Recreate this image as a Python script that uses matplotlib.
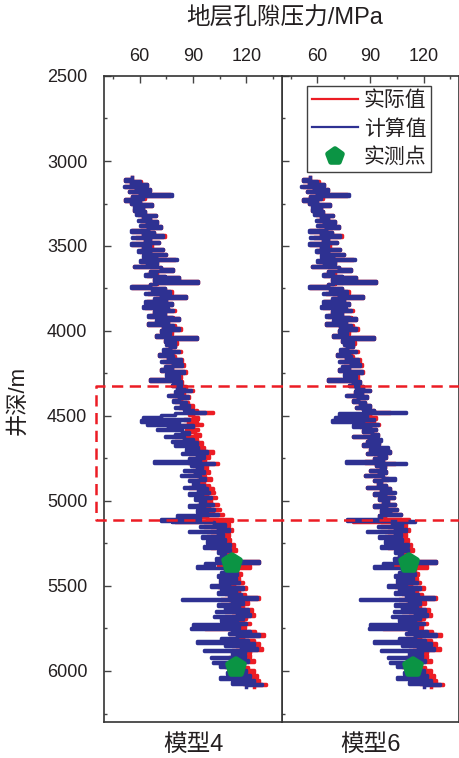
import numpy as np
import matplotlib
matplotlib.use('Agg')
import matplotlib.pyplot as plt
from matplotlib.ticker import MultipleLocator
from matplotlib import transforms
from matplotlib.lines import Line2D
from matplotlib.markers import MarkerStyle

plt.rcParams['font.family'] = ['Liberation Sans', 'Noto Sans CJK SC']

# well depth samples, m
depth = np.arange(3100, 6100, 10)

# measured formation pore pressure, MPa
actual = [
    56, 52, 61, 55, 64, 52, 58, 66, 54, 60, 77, 56, 63, 52, 60, 55, 67, 58, 62, 57,
    63, 59, 69, 62, 66, 60, 70, 64, 61, 72, 65, 56, 68, 62, 74, 58, 66, 63, 71, 56,
    67, 62, 73, 60, 66, 75, 63, 69, 80, 61, 70, 65, 57, 72, 79, 66, 70, 64, 74, 82,
    68, 93, 70, 66, 56, 74, 68, 78, 65, 72, 86, 69, 75, 64, 78, 70, 63, 76, 80, 68,
    74, 66, 79, 82, 70, 76, 65, 80, 73, 83, 72, 78, 75, 69, 92, 77, 74, 81, 76, 80,
    77, 74, 83, 79, 71, 80, 76, 84, 73, 79, 85, 75, 78, 72, 86, 80, 76, 83, 79, 66,
    84, 80, 78, 86, 82, 90, 81, 85, 77, 88, 83, 80, 87, 84, 90, 82, 86, 92, 101, 88,
    90, 93, 85, 92, 87, 95, 84, 90, 93, 86, 91, 94, 80, 89, 92, 88, 95, 86, 91, 96,
    90, 101, 88, 95, 99, 92, 97, 87, 104, 93, 98, 96, 90, 99, 95, 87, 97, 100, 92, 96,
    94, 99, 88, 101, 96, 102, 92, 98, 103, 95, 100, 97, 104, 92, 99, 105, 96, 101, 107, 95,
    98, 112, 80, 104, 110, 96, 108, 112, 100, 106, 110, 98, 104, 111, 102, 108, 113, 100, 110, 114,
    106, 110, 107, 111, 105, 109, 127, 112, 104, 122, 110, 115, 108, 117, 106, 112, 116, 109, 118, 113,
    104, 120, 110, 116, 108, 119, 113, 127, 106, 114, 121, 110, 118, 112, 123, 108, 117, 124, 112, 120,
    110, 118, 122, 112, 119, 97, 116, 125, 114, 130, 118, 110, 124, 115, 127, 112, 120, 129, 114, 122,
    116, 122, 110, 119, 124, 113, 118, 108, 121, 115, 124, 112, 119, 126, 114, 121, 127, 118, 131, 124,
]

# model 4 prediction
calc_m4 = [
    56, 52, 60, 55, 64, 51, 58, 66, 54, 60, 78, 56, 62, 52, 60, 55, 67, 57, 62, 57,
    63, 58, 69, 62, 66, 59, 70, 64, 60, 72, 65, 55, 68, 62, 73, 56, 66, 63, 71, 55,
    66, 62, 73, 59, 66, 75, 62, 69, 81, 60, 70, 64, 57, 72, 79, 66, 69, 63, 74, 82,
    68, 93, 69, 66, 55, 74, 67, 77, 63, 72, 86, 68, 75, 63, 78, 70, 62, 76, 79, 68,
    74, 65, 78, 82, 69, 76, 65, 79, 73, 82, 72, 77, 75, 69, 92, 76, 74, 80, 75, 80,
    77, 73, 82, 78, 71, 79, 76, 83, 72, 79, 84, 74, 78, 72, 85, 79, 75, 82, 78, 66,
    83, 79, 78, 85, 81, 89, 80, 84, 76, 87, 82, 79, 86, 83, 88, 80, 85, 90, 97, 80,
    72, 62, 88, 61, 82, 64, 90, 76, 70, 84, 88, 80, 74, 85, 90, 78, 92, 80, 86, 93,
    86, 98, 84, 92, 96, 88, 94, 68, 102, 89, 95, 92, 85, 96, 91, 83, 94, 97, 88, 93,
    90, 96, 85, 98, 93, 99, 88, 95, 100, 91, 97, 94, 101, 88, 96, 102, 92, 98, 104, 81,
    94, 72, 78, 102, 108, 94, 104, 110, 88, 104, 107, 95, 102, 108, 98, 105, 111, 96, 107, 111,
    104, 108, 106, 109, 103, 107, 127, 97, 102, 92, 108, 113, 106, 115, 104, 110, 114, 105, 116, 110,
    100, 118, 106, 114, 104, 117, 110, 126, 84, 112, 118, 104, 116, 108, 121, 103, 115, 122, 102, 118,
    106, 115, 120, 90, 116, 89, 112, 122, 110, 127, 115, 106, 121, 92, 124, 108, 117, 126, 96, 119,
    112, 119, 100, 116, 121, 101, 115, 105, 118, 112, 120, 109, 116, 122, 105, 118, 124, 112, 129, 120,
]

# model 6 prediction
calc_m6 = [
    56, 52, 60, 55, 64, 51, 58, 66, 54, 60, 78, 56, 62, 52, 60, 55, 67, 57, 62, 57,
    63, 58, 69, 62, 66, 59, 70, 64, 60, 72, 65, 55, 68, 62, 73, 56, 66, 63, 71, 55,
    66, 62, 73, 59, 66, 75, 62, 69, 81, 60, 70, 64, 57, 72, 79, 66, 69, 63, 74, 82,
    68, 93, 69, 66, 55, 74, 67, 77, 63, 72, 86, 68, 75, 63, 78, 70, 62, 76, 79, 68,
    74, 65, 78, 82, 69, 76, 65, 79, 73, 82, 72, 77, 75, 69, 92, 76, 74, 80, 75, 80,
    77, 73, 82, 78, 71, 79, 76, 83, 72, 79, 84, 74, 78, 72, 85, 79, 75, 82, 78, 66,
    84, 80, 78, 86, 82, 90, 81, 85, 76, 88, 83, 80, 87, 84, 90, 82, 86, 92, 110, 72,
    88, 70, 92, 68, 86, 94, 80, 90, 93, 86, 91, 94, 80, 89, 96, 88, 95, 86, 91, 100,
    90, 101, 88, 95, 99, 92, 97, 76, 110, 93, 98, 96, 90, 99, 95, 87, 97, 104, 92, 96,
    94, 99, 88, 101, 96, 104, 92, 98, 103, 95, 100, 97, 104, 92, 99, 105, 96, 101, 107, 95,
    96, 77, 115, 102, 108, 94, 104, 110, 88, 104, 107, 95, 102, 108, 98, 105, 111, 96, 107, 111,
    104, 108, 106, 109, 103, 107, 127, 97, 102, 92, 108, 113, 106, 115, 104, 110, 114, 105, 116, 110,
    100, 118, 106, 114, 104, 117, 110, 126, 84, 112, 118, 104, 116, 108, 121, 103, 115, 122, 102, 118,
    106, 115, 120, 90, 116, 89, 112, 122, 110, 127, 115, 106, 121, 92, 124, 108, 117, 126, 96, 119,
    112, 119, 100, 116, 121, 101, 115, 105, 118, 112, 120, 109, 116, 122, 105, 118, 124, 112, 129, 120,
]

# pressure test points
meas_depth = [5365, 5978]
meas_press = [112, 114]

panel_names = ['模型4', '模型6']
model_calcs = [calc_m4, calc_m6]

# depth interval highlighted by the dashed frame
box_top, box_bottom = 4325, 5110

RED = '#ec1c24'
BLUE = '#2e3192'
GREEN = '#0b9444'
TXT = '#231f20'


def log_steps(values, z, dz=10):
    # blocky log trace: each sample holds its value over its depth cell
    xs = np.repeat(np.asarray(values, float), 2)
    zs = np.column_stack([z - dz / 2, z + dz / 2]).ravel()
    return xs, zs


pent = MarkerStyle('p', joinstyle='round')

fig = plt.figure(figsize=(4.6, 7.58), dpi=100)
ax1 = fig.add_axes([104 / 460, 36 / 758, 178 / 460, 646 / 758])
ax2 = fig.add_axes([282 / 460, 36 / 758, 177 / 460, 646 / 758])
axes = [ax1, ax2]

for ax, calc, name in zip(axes, model_calcs, panel_names):
    ax.plot(*log_steps(actual, depth), color=RED, lw=2.5, label='实际值')
    ax.plot(*log_steps(calc, depth), color=BLUE, lw=2.5, label='计算值')
    ax.plot(meas_press, meas_depth, ls='none', marker=pent, ms=12, mew=4,
            color=GREEN, mec=GREEN, label='实测点')

    ax.set_xlim(40, 140)
    ax.set_ylim(6300, 2500)
    ax.xaxis.set_major_locator(MultipleLocator(30))
    ax.xaxis.set_minor_locator(MultipleLocator(30, offset=15))
    ax.yaxis.set_major_locator(MultipleLocator(500))
    ax.yaxis.set_minor_locator(MultipleLocator(250))
    ax.xaxis.tick_top()
    ax.tick_params(axis='both', which='both', direction='in', colors='#444',
                   labelcolor=TXT, labelsize=13, width=1)
    ax.tick_params(axis='both', which='major', length=5)
    ax.tick_params(axis='both', which='minor', length=2.5)
    ax.tick_params(axis='x', which='both', top=True, bottom=False, pad=8)
    ax.tick_params(axis='y', which='both', left=True, right=False, pad=12)
    for sp in ax.spines.values():
        sp.set_color('#333')
        sp.set_linewidth(1.2)
    ax.text(0.5, -0.035, name, transform=ax.transAxes, ha='center', va='center',
            fontsize=17, color=TXT)

ax2.tick_params(axis='y', labelleft=False)
ax1.set_zorder(2)

leg = ax2.legend(loc='upper right', bbox_to_anchor=(0.842, 0.9845), borderaxespad=0,
                 fontsize=15, frameon=True, fancybox=False, edgecolor='#111',
                 handlelength=2.2, handletextpad=0.3, labelspacing=0.42,
                 borderpad=0.22, markerscale=0.9)
leg.get_frame().set_linewidth(1.0)
for t in leg.get_texts():
    t.set_color(TXT)
for h in leg.legend_handles[:2]:
    h.set_linewidth(1.6)

# dashed frame spanning both panels
trans = transforms.blended_transform_factory(fig.transFigure, ax1.transData)
frame_x = [1.0, 96 / 460, 96 / 460, 1.0]
frame_y = [box_top, box_top, box_bottom, box_bottom]
fig.add_artist(Line2D(frame_x, frame_y, transform=trans, color=RED, lw=1.8,
                      ls=(0, (4.5, 2.6)), zorder=10))

fig.text(285 / 460, 1 - 18 / 758, '地层孔隙压力/MPa', ha='center', va='center',
         fontsize=17, color=TXT)
fig.text(18 / 460, 1 - 400 / 758, '井深/m', ha='center', va='center',
         rotation=90, fontsize=16, color=TXT)

fig.savefig('out.png', dpi=100)
plt.close(fig)
